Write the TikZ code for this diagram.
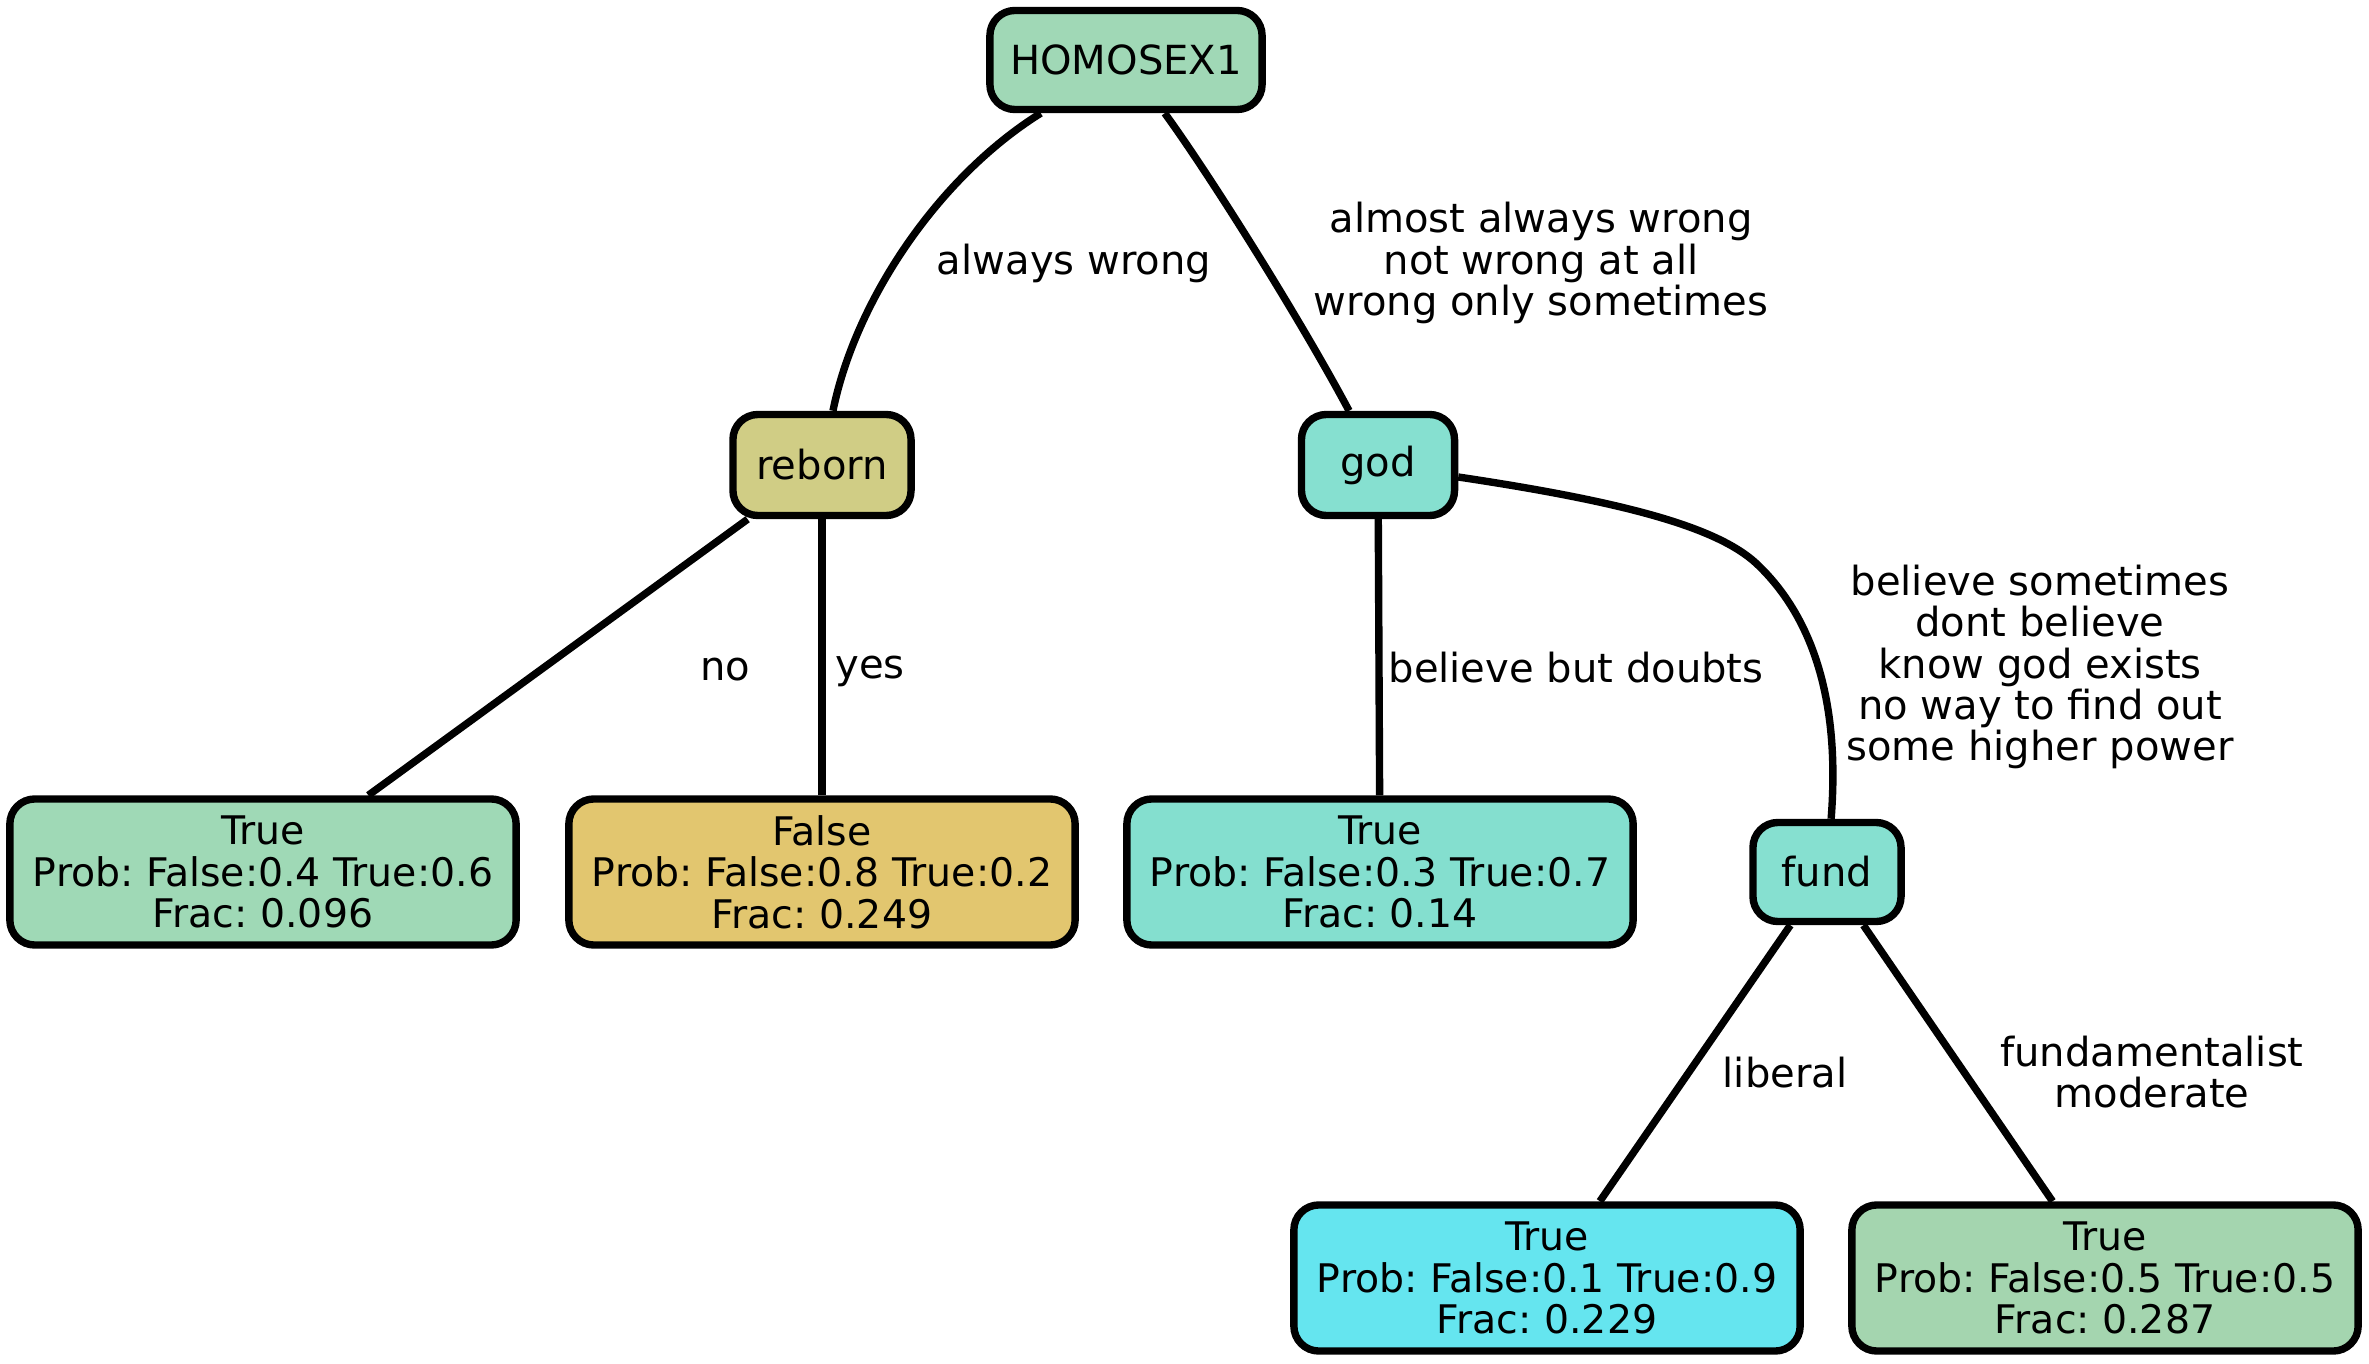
\documentclass[tikz,border=0pt]{standalone}
\usepackage{fontspec}
\setmainfont{DejaVu Sans}
\usepackage{tikz}
\usetikzlibrary{shapes}
\frenchspacing
\definecolor{rootcol}{RGB}{160,216,182}
\definecolor{reborncol}{RGB}{208,205,133}
\definecolor{godcol}{RGB}{134,224,208}
\definecolor{leafa}{RGB}{159,217,182}
\definecolor{leafb}{RGB}{226,198,111}
\definecolor{leafc}{RGB}{132,223,207}
\definecolor{leafd}{RGB}{101,229,239}
\definecolor{leafe}{RGB}{164,213,175}
\tikzset{
  split node/.style={rectangle,rounded corners=0.25cm,draw,line width=2.1pt,minimum height=0.99cm,inner sep=0pt,font=\fontsize{11.4}{11.75}\selectfont},
  leaf node/.style={rectangle,rounded corners=0.25cm,draw,line width=2.1pt,minimum width=5.06cm,minimum height=1.46cm,inner sep=0pt,align=center,font=\fontsize{11.2}{11.75}\selectfont},
  edge label/.style={align=center,inner sep=0pt,font=\fontsize{11.4}{11.75}\selectfont}
}
\begin{document}
\begin{tikzpicture}[x=0.01cm,y=-0.01cm,line width=2.1pt]
    \useasboundingbox (0,0) rectangle (2369,1364);

    \node[split node,fill=rootcol,minimum width=2.72cm] (hom) at (1126,60) {HOMOSEX1};
    \node[split node,fill=reborncol,minimum width=1.78cm,minimum height=1.01cm] (reborn) at (822,465) {reborn};
    \node[split node,fill=godcol,minimum width=1.53cm,minimum height=1.01cm] (god) at (1378,465) {god};
    \node[split node,fill=godcol,minimum width=1.48cm] (fund) at (1827,872) {fund};

    \node[leaf node,fill=leafa] (l1) at (263,872) {True\\Prob: False:0.4 True:0.6\\Frac: 0.096};
    \node[leaf node,fill=leafb] (l2) at (822,872) {False\\Prob: False:0.8 True:0.2\\Frac: 0.249};
    \node[leaf node,fill=leafc] (l3) at (1380,872) {True\\Prob: False:0.3 True:0.7\\Frac: 0.14};
    \node[leaf node,fill=leafd] (l4) at (1547,1278) {True\\Prob: False:0.1 True:0.9\\Frac: 0.229};
    \node[leaf node,fill=leafe] (l5) at (2105,1278) {True\\Prob: False:0.5 True:0.5\\Frac: 0.287};

    % edges
    \draw (hom) .. controls (937,178) and (855,302) .. (reborn);
    \draw (hom) .. controls (1209,174) and (1299,317) .. (god);
    \draw (god) .. controls (1632,503) and (1723,529) .. (1760,567)
                .. controls (1836,642) and (1836,756) .. (fund);
    \draw (reborn) -- (l1);
    \draw (reborn) -- (l2);
    \draw (god) -- (l3);
    \draw (fund) -- (l4);
    \draw (fund) -- (l5);

    % edge labels
    \node[edge label] (aw) at (1074,263) {always wrong};
    \node[edge label] (naw) at (1541,263) {almost always wrong\\not wrong at all\\wrong only sometimes};
    \node[edge label] (no) at (725,670) {no};
    \node[edge label] (yes) at (870,671) {yes};
    \node[edge label] (bbd) at (1576,668) {believe but doubts};
    \node[edge label] (bs) at (2040,667) {believe sometimes\\dont believe\\know god exists\\no way to find out\\some higher power};
    \node[edge label] (lib) at (1785,1073) {liberal};
    \node[edge label] (fm) at (2152,1072) {fundamentalist\\moderate};
\end{tikzpicture}
\end{document}
